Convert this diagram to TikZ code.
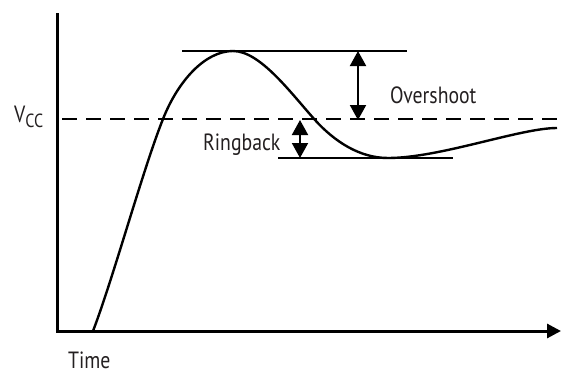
\documentclass[tikz,border=0pt]{standalone}
\usepackage{fontspec}
\setmainfont{PT Sans}[FakeStretch=0.84]
\usetikzlibrary{arrows.meta}
\definecolor{rbtxt}{RGB}{35,31,32}

\begin{document}
\begin{tikzpicture}[
    x=1pt, y=-1pt,
    axis/.style={draw=black, line width=3pt},
    wave/.style={draw=black, line width=2.4pt, line join=round},
    level/.style={draw=black, line width=2pt},
    ref/.style={draw=black, line width=2pt, dash pattern=on 15pt off 9pt},
    span/.style={draw=black, line width=2pt, {Triangle[length=15pt,width=16pt]}-{Triangle[length=15pt,width=16pt]}},
    tag/.style={font=\fontsize{23.5}{27}\selectfont, text=rbtxt, inner sep=0pt, anchor=base west},
  ]
  \useasboundingbox (0,0) rectangle (561,375);

  %% ---------------- axes ----------------
  \coordinate (ytop) at (57,13);
  \coordinate (orig) at (57,331);
  \coordinate (xend) at (561,331);
  \draw[axis, -{Triangle[length=14pt,width=14pt]}] (ytop) -- (orig) -- (xend);

  %% ---------------- VCC reference ----------------
  \coordinate (vl) at (62,119);
  \coordinate (vr) at (557,119);
  \draw[ref] (vl) -- (vr);
  \node[tag] (vcc) at (14,122) {V\raisebox{-5pt}{\fontsize{19}{21}\selectfont CC}};

  %% ---------------- step response ----------------
  \coordinate (s0) at (93,331);
  \coordinate (s1) at (163,119);
  \coordinate (pk) at (233,51);
  \coordinate (s2) at (315,120);
  \coordinate (mn) at (388,158);
  \coordinate (s3) at (557,128);
  \draw[wave] (s0) .. controls (113,279) and (143,169) .. (s1)
    .. controls (178,81) and (205,51) .. (pk)
    .. controls (260,51) and (290,92) .. (s2)
    .. controls (335,142) and (360,158) .. (mn)
    .. controls (440,158) and (520,128) .. (s3);

  %% ---------------- overshoot ----------------
  \coordinate (pkl) at (182,51);
  \coordinate (pkr) at (407,51);
  \draw[level] (pkl) -- (pkr);
  \coordinate (ost) at (358,51);
  \coordinate (osb) at (358,120);
  \draw[span] (ost) -- (osb);
  \node[tag] (over) at (390,103) {Overshoot};

  %% ---------------- ringback ----------------
  \coordinate (mnl) at (278,158);
  \coordinate (mnr) at (453,158);
  \draw[level] (mnl) -- (mnr);
  \coordinate (rbt) at (300,120);
  \coordinate (rbb) at (300,158);
  \draw[span] (rbt) -- (rbb);
  \node[tag] (ring) at (203,150) {Ringback};

  \node[tag] (time) at (68,368) {Time};

\end{tikzpicture}
\end{document}
